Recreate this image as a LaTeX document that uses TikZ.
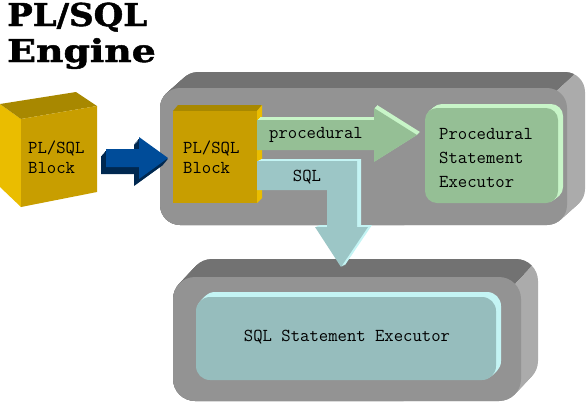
\documentclass[tikz,border=0pt]{standalone}
\usepackage{fontspec}
\newfontfamily\titlefont{DejaVu Serif}[BoldFeatures={FakeBold=1.5}]
\usetikzlibrary{positioning}

\definecolor{engtop}{HTML}{727272}
\definecolor{engfront}{HTML}{939393}
\definecolor{engside}{HTML}{ABABAB}
\definecolor{goldfront}{HTML}{C89E00}
\definecolor{goldtop}{HTML}{A88800}
\definecolor{goldside}{HTML}{EABD00}
\definecolor{arrowblue}{HTML}{004C99}
\definecolor{arrowdark}{HTML}{002850}
\definecolor{procgreen}{HTML}{95BF95}
\definecolor{proclight}{HTML}{C8F5C8}
\definecolor{sqlteal}{HTML}{9CC6C6}
\definecolor{sqllight}{HTML}{C4F4F4}
\definecolor{execteal}{HTML}{96BDBD}

\tikzset{
  codetext/.style={font=\ttfamily\fontsize{18.2}{20}\selectfont, inner sep=0pt, align=left},
  titletext/.style={font=\titlefont\bfseries\fontsize{31.5}{36}\selectfont, inner sep=0pt, anchor=base west}
}

\begin{document}
\begin{tikzpicture}[x=1pt,y=-1pt]
    \useasboundingbox (0,0) rectangle (586,402);

    % Title
    \node [titletext] (titlepl) at (7,26) {\scalebox{1.08}[1]{PL/SQL}};
    \node [titletext] (titleeng) at (7,62) {\scalebox{1.2}[1]{Engine}};

    % Engine box
    \foreach \d in {0,...,18}
        \fill [engside, rounded corners=20] ({160+\d},{88-\d*16/18}) rectangle ({567+\d},{225-\d*16/18});
    \begin{scope}
        \clip (374,252) -- (590,60) -- (590,-10) -- (-10,-10) -- (-10,300) -- cycle;
        \foreach \d in {0,...,18}
            \fill [engtop, rounded corners=20] ({160+\d},{88-\d*16/18}) rectangle ({567+\d},{225-\d*16/18});
    \end{scope}
    \fill [engfront, rounded corners=20] (160,88) rectangle (567,225);

    % SQL executor box
    \foreach \d in {0,...,17}
        \fill [engside, rounded corners=22] ({173+\d},{277-\d*18/17}) rectangle ({521+\d},{401-\d*18/17});
    \begin{scope}
        \clip (379,427) -- (549,247) -- (549,-10) -- (-10,-10) -- (-10,427) -- cycle;
        \foreach \d in {0,...,17}
            \fill [engtop, rounded corners=22] ({173+\d},{277-\d*18/17}) rectangle ({521+\d},{401-\d*18/17});
    \end{scope}
    \fill [engfront, rounded corners=22] (173,277) rectangle (521,401);

    \foreach \d in {1,...,5}
        \fill [sqllight, rounded corners=14] ({196+\d},{297-\d}) rectangle ({496+\d},{380-\d});
    \fill [execteal, rounded corners=14] (196,297) rectangle (496,380);
    \node [codetext] (sqlexec) at (347,337) {SQL Statement Executor};

    % Outer block
    \fill [goldside] (0,104) -- (21,119) -- (21,207) -- (0,187) -- cycle;
    \fill [goldtop] (0,104) -- (76,92) -- (97,106) -- (21,119) -- cycle;
    \fill [goldfront] (21,119) -- (97,106) -- (97,192) -- (21,207) -- cycle;
    \node [codetext, anchor=west] (outblock) at (28,157) {PL/SQL\\Block};

    % Blue arrow
    \foreach \d in {0,...,6}
        \fill [arrowdark, shift={({-5+\d*5/6},{7-\d})}]
            (106,149) -- (139,149) -- (139,137) -- (168,158) -- (139,179) -- (139,167) -- (106,167) -- cycle;
    \fill [arrowblue] (106,149) -- (139,149) -- (139,137) -- (168,158) -- (139,179) -- (139,167) -- (106,167) -- cycle;

    % Inner block
    \fill [goldtop] (173,111) -- (178,105) -- (262,105) -- (257,111) -- cycle;
    \fill [goldside] (257,111) -- (262,105) -- (262,198) -- (257,203) -- cycle;
    \fill [goldfront] (173,111) rectangle (257,203);
    \node [codetext, anchor=west] (inblock) at (183,157) {PL/SQL\\Block};

    % SQL arrow
    \foreach \d in {1,...,4}
        \fill [sqllight, shift={(\d,{-\d/2})}]
            (257,161) -- (357,161) -- (357,227) -- (368,227) -- (341,267) -- (315,227) -- (327,227) -- (327,190) -- (257,190) -- cycle;
    \fill [sqlteal] (257,161) -- (357,161) -- (357,227) -- (368,227) -- (341,267) -- (315,227) -- (327,227) -- (327,190) -- (257,190) -- cycle;
    \node [codetext] (sqllabel) at (307,177) {SQL};

    % procedural arrow
    \foreach \d in {1,2,3}
        \fill [proclight, shift={(\d,-\d)}]
            (257,120) -- (374,120) -- (374,108) -- (417,135) -- (374,162) -- (374,150) -- (257,150) -- cycle;
    \fill [procgreen] (257,120) -- (374,120) -- (374,108) -- (417,135) -- (374,162) -- (374,150) -- (257,150) -- cycle;
    \node [codetext] (proclabel) at (316,135) {procedural};

    % Procedural executor box
    \foreach \d in {1,...,5}
        \fill [proclight, rounded corners=12] ({425+\d},{108-\d*0.8}) rectangle ({558+\d},{203-\d*0.8});
    \fill [procgreen, rounded corners=12] (425,108) rectangle (558,203);
    \node [codetext, anchor=west, font=\ttfamily\fontsize{18.2}{24}\selectfont] (procexec) at (439,158) {Procedural\\Statement\\Executor};
\end{tikzpicture}
\end{document}
